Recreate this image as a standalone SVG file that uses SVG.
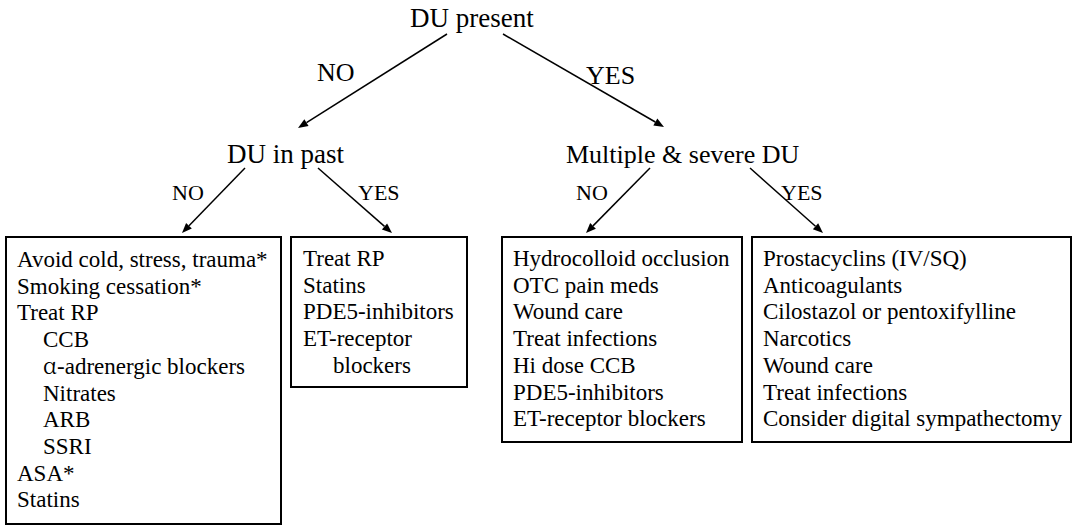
<svg xmlns="http://www.w3.org/2000/svg" width="1073" height="526" viewBox="0 0 1073 526">
<rect width="1073" height="526" fill="#fff"/>
<g id="connectors">
<g stroke="#000" stroke-width="1.5" fill="none">
<line x1="447" y1="34" x2="306.5" y2="122.7"/>
<line x1="503" y1="34" x2="655.3" y2="122"/>
<line x1="245" y1="168" x2="189" y2="225.8"/>
<line x1="318" y1="168" x2="384.5" y2="226.4"/>
<line x1="650" y1="168" x2="593" y2="225.9"/>
<line x1="750" y1="168" x2="815.5" y2="226.3"/>
</g>
<g fill="#000">
<path d="M298,128 L304.33,119.29 L308.59,126.05 Z"/>
<path d="M664,127 L653.34,125.46 L657.34,118.54 Z"/>
<path d="M182,233 L186.09,223.04 L191.83,228.6 Z"/>
<path d="M392,233 L381.85,229.4 L387.13,223.4 Z"/>
<path d="M586,233 L590.17,223.06 L595.87,228.68 Z"/>
<path d="M823,233 L812.87,229.34 L818.19,223.36 Z"/>
</g>
<text font-family="Liberation Serif" font-size="26" x="317" y="81">NO</text>
<text font-family="Liberation Serif" font-size="26" x="586" y="84">YES</text>
<text font-family="Liberation Serif" font-size="22" x="172" y="200">NO</text>
<text font-family="Liberation Serif" font-size="22" x="358" y="200">YES</text>
<text font-family="Liberation Serif" font-size="22" x="576" y="200">NO</text>
<text font-family="Liberation Serif" font-size="22" x="781" y="200">YES</text>
</g>
<g id="du-present"><text font-family="Liberation Serif" font-size="27" x="410" y="27">DU present</text></g>
<g id="du-in-past"><text font-family="Liberation Serif" font-size="27" x="227" y="163">DU in past</text></g>
<g id="multiple-severe"><text font-family="Liberation Serif" font-size="26" x="566" y="163">Multiple &amp; severe DU</text></g>
<g id="box-no-no">
<rect x="6" y="237" width="275" height="287" fill="#fff" stroke="#000" stroke-width="2"/>
<text font-family="Liberation Serif" font-size="23" x="17" y="267">Avoid cold, stress, trauma*</text>
<text font-family="Liberation Serif" font-size="23" x="17" y="293.7">Smoking cessation*</text>
<text font-family="Liberation Serif" font-size="23" x="17" y="320.4">Treat RP</text>
<text font-family="Liberation Serif" font-size="23" x="43" y="347.1">CCB</text>
<text font-family="Liberation Serif" font-size="23" x="43" y="373.8"><tspan font-family="Noto Serif CJK SC, serif">α</tspan>-adrenergic blockers</text>
<text font-family="Liberation Serif" font-size="23" x="43" y="400.5">Nitrates</text>
<text font-family="Liberation Serif" font-size="23" x="43" y="427.2">ARB</text>
<text font-family="Liberation Serif" font-size="23" x="43" y="453.9">SSRI</text>
<text font-family="Liberation Serif" font-size="23" x="17" y="480.6">ASA*</text>
<text font-family="Liberation Serif" font-size="23" x="17" y="507.3">Statins</text>
</g>
<g id="box-no-yes">
<rect x="291" y="237" width="176" height="150" fill="#fff" stroke="#000" stroke-width="2"/>
<text font-family="Liberation Serif" font-size="23" x="303" y="266">Treat RP</text>
<text font-family="Liberation Serif" font-size="23" x="303" y="292.7">Statins</text>
<text font-family="Liberation Serif" font-size="23" x="303" y="319.4">PDE5-inhibitors</text>
<text font-family="Liberation Serif" font-size="23" x="303" y="346.1">ET-receptor</text>
<text font-family="Liberation Serif" font-size="23" x="333" y="372.8">blockers</text>
</g>
<g id="box-yes-no">
<rect x="502" y="237" width="240" height="205" fill="#fff" stroke="#000" stroke-width="2"/>
<text font-family="Liberation Serif" font-size="23" x="513" y="266">Hydrocolloid occlusion</text>
<text font-family="Liberation Serif" font-size="23" x="513" y="292.7">OTC pain meds</text>
<text font-family="Liberation Serif" font-size="23" x="513" y="319.4">Wound care</text>
<text font-family="Liberation Serif" font-size="23" x="513" y="346.1">Treat infections</text>
<text font-family="Liberation Serif" font-size="23" x="513" y="372.8">Hi dose CCB</text>
<text font-family="Liberation Serif" font-size="23" x="513" y="399.5">PDE5-inhibitors</text>
<text font-family="Liberation Serif" font-size="23" x="513" y="426.2">ET-receptor blockers</text>
</g>
<g id="box-yes-yes">
<rect x="752" y="237" width="319" height="205" fill="#fff" stroke="#000" stroke-width="2"/>
<text font-family="Liberation Serif" font-size="23" x="763" y="266">Prostacyclins (IV/SQ)</text>
<text font-family="Liberation Serif" font-size="23" x="763" y="292.7">Anticoagulants</text>
<text font-family="Liberation Serif" font-size="23" x="763" y="319.4">Cilostazol or pentoxifylline</text>
<text font-family="Liberation Serif" font-size="23" x="763" y="346.1">Narcotics</text>
<text font-family="Liberation Serif" font-size="23" x="763" y="372.8">Wound care</text>
<text font-family="Liberation Serif" font-size="23" x="763" y="399.5">Treat infections</text>
<text font-family="Liberation Serif" font-size="23" x="763" y="426.2">Consider digital sympathectomy</text>
</g>
</svg>
